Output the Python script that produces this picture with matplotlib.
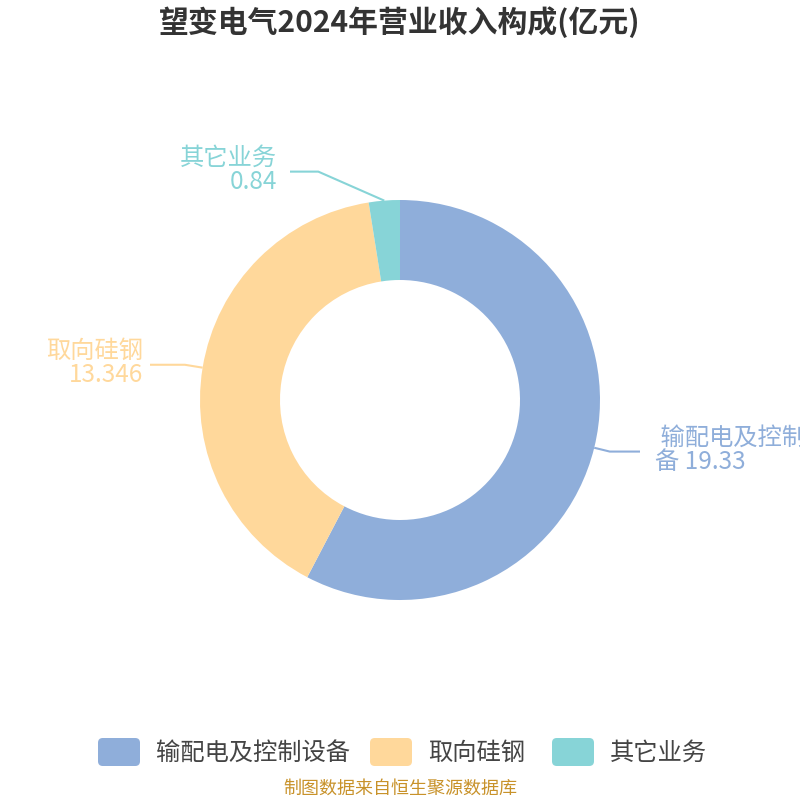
import numpy as np
import matplotlib
matplotlib.use("Agg")
from matplotlib import pyplot as plt
from matplotlib.patches import FancyBboxPatch

plt.rcParams['font.family'] = ['Noto Sans CJK SC', 'DejaVu Sans']

categories = ["输配电及控制设备", "取向硅钢", "其它业务"]
values = [19.33, 13.346, 0.84]
colors = ["#8FAEDA", "#FFD89B", "#87D4D7"]

fig = plt.figure(figsize=(8, 8), dpi=100)
ax = fig.add_axes([0, 0, 1, 1])
ax.axis("off")

R = 200
wedges, _ = ax.pie(values, colors=colors, radius=R, startangle=90, counterclock=False,
                   wedgeprops=dict(width=80, edgecolor="none"), center=(0, 0))
ax.set_xlim(-400, 400)
ax.set_ylim(-400, 400)
ax.set_aspect("equal")

# label layout: (radial extension, horizontal end x, text x, ha, text)
layout = [
    (16, 240, 255, "left", " 输配电及控制\n备 19.33"),
    (18, -250, -257, "right", "取向硅钢\n13.346"),
    (30, -110, -123, "right", "其它业务\n0.84"),
]
for w, col, (ext, hx, tx, ha, txt) in zip(wedges, colors, layout):
    ang = np.deg2rad((w.theta1 + w.theta2) / 2)
    x0, y0 = R * np.cos(ang), R * np.sin(ang)
    x1, y1 = (R + ext) * np.cos(ang), (R + ext) * np.sin(ang)
    if ext == 30:
        x1, y1 = x0 - 66, y0 + 29
    ax.plot([x0, x1, hx], [y0, y1, y1], color=col, lw=1.5, solid_capstyle="butt")
    # the reference also cuts the right label at the image edge
    ax.text(tx, y1 + 2, txt, color=col, fontsize=17.5, ha=ha, va="center",
            linespacing=0.92, clip_on=False)

fig.text(0.5, 0.972, "望变电气2024年营业收入构成(亿元)", ha="center", va="center",
         fontsize=21.5, fontweight="bold", color="#333333")

# legend
lx = [98, 370, 552]
for x, c, name in zip(lx, colors, categories):
    fig.patches.append(FancyBboxPatch((x / 800, 1 - 766 / 800), 42 / 800, 28 / 800,
                                      boxstyle="round,pad=0,rounding_size=0.006",
                                      transform=fig.transFigure, color=c, ec="none"))
    fig.text((x + 58) / 800, 1 - 753 / 800, name, fontsize=17.5, color="#444444",
             ha="left", va="center")

fig.text(0.5, 1 - 789 / 800, "制图数据来自恒生聚源数据库", ha="center", va="center",
         fontsize=13, color="#C8922A")

fig.savefig("out.png", dpi=100)
